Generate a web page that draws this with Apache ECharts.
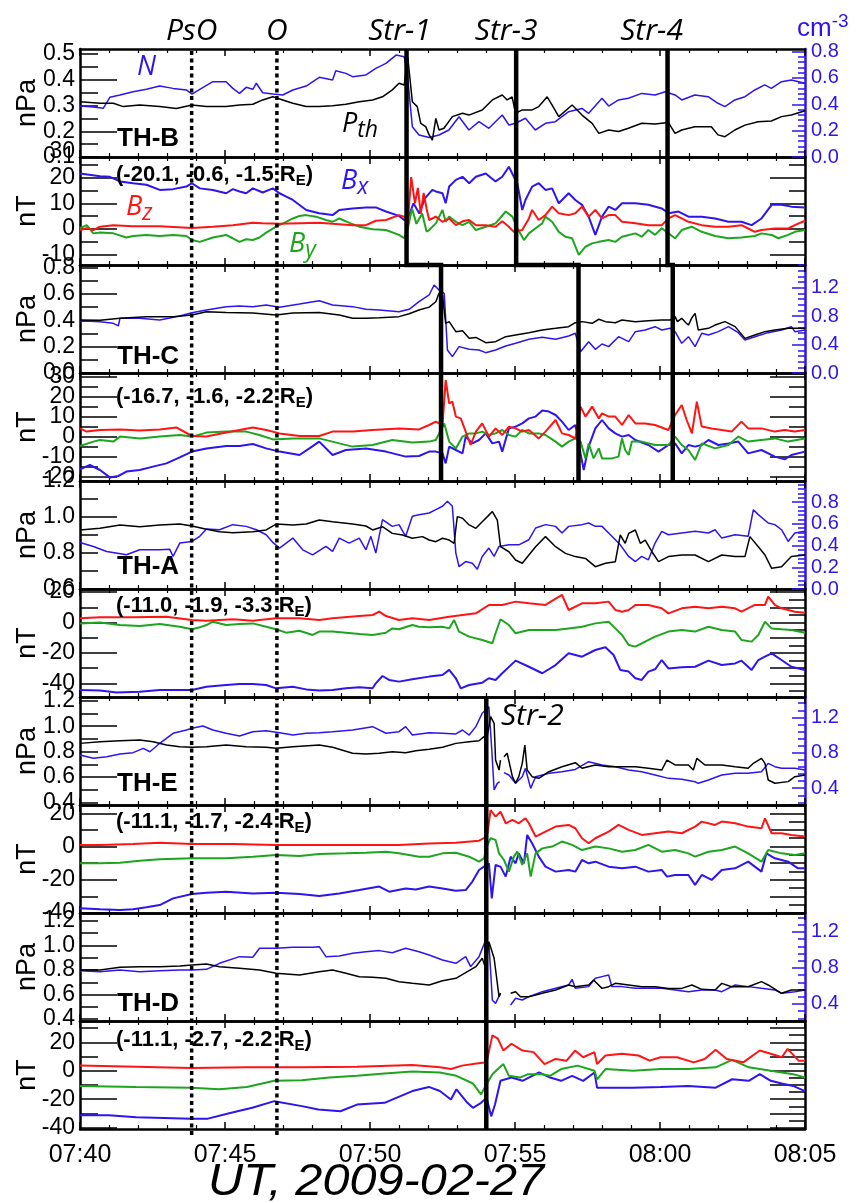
<!DOCTYPE html>
<html>
<head>
<meta charset="utf-8">
<title>THEMIS 2009-02-27</title>
<script src="https://cdn.jsdelivr.net/npm/echarts@6/dist/echarts.min.js"></script>
<style>
html,body{margin:0;padding:0;background:#fff;}
#chart{width:863px;height:1203px;}
</style>
</head>
<body>
<div id="chart"></div>
<script>
// ================= DATA (time in minutes after 07:40 UT) =================
const timeLabels = ['07:40','07:45','07:50','07:55','08:00','08:05'];
const xTitle = 'UT, 2009-02-27';
const probeNames = ['TH-B','TH-C','TH-A','TH-E','TH-D'];
const probePos = ['(-20.1, -0.6, -1.5 R','(-16.7, -1.6, -2.2 R','(-11.0, -1.9, -3.3 R','(-11.1, -1.7, -2.4 R','(-11.1, -2.7, -2.2 R'];
const dottedEvents = [{name:'PsO', t:3.85},{name:'O', t:6.79}];
const strNames = ['Str-1','Str-3','Str-4'];
const strTimesB = [11.26, 15.04, 20.26];
const strTimesC = [12.45, 17.19, 20.44];
const str2Time = 14.01;

// TH-B
const thbP = [[0,0.315],[0.69,0.309],[1.15,0.309],[1.49,0.296],[2.06,0.302],[2.75,0.296],[3.32,0.289],[3.86,0.302],[4.36,0.296],[5.04,0.296],[5.5,0.302],[5.96,0.305],[6.3,0.322],[6.65,0.334],[6.99,0.322],[7.34,0.309],[7.8,0.296],[8.25,0.296],[8.71,0.299],[9.17,0.305],[9.63,0.315],[10.09,0.322],[10.43,0.334],[10.77,0.361],[11.0,0.387],[11.18,0.38],[11.3,0.49],[11.46,0.315],[11.63,0.296],[11.75,0.231],[11.92,0.218],[12.04,0.186],[12.15,0.166],[12.27,0.25],[12.38,0.205],[12.55,0.212],[12.84,0.257],[13.19,0.27],[13.41,0.263],[13.87,0.283],[14.22,0.322],[14.56,0.341],[14.73,0.322],[14.9,0.334],[15.02,0.27],[15.25,0.283],[15.59,0.283],[15.82,0.296],[16.11,0.334],[16.28,0.302],[16.51,0.257],[16.97,0.302],[17.31,0.263],[17.66,0.231],[17.89,0.192],[18.23,0.205],[18.57,0.199],[18.91,0.212],[19.37,0.231],[19.83,0.228],[20.29,0.234],[20.52,0.192],[20.75,0.205],[21.2,0.218],[21.77,0.218],[22.0,0.186],[22.24,0.179],[22.58,0.205],[22.93,0.224],[23.38,0.237],[23.84,0.24],[24.19,0.257],[24.53,0.263],[25,0.28]];
const thbN = [[0,0.387],[0.46,0.38],[0.8,0.37],[1.03,0.453],[1.38,0.471],[1.83,0.496],[2.29,0.514],[2.75,0.539],[3.21,0.521],[3.67,0.509],[3.86,0.478],[4.13,0.514],[4.58,0.572],[5.04,0.572],[5.27,0.521],[5.5,0.483],[5.73,0.529],[5.96,0.514],[6.08,0.56],[6.3,0.488],[6.65,0.478],[6.99,0.471],[7.34,0.509],[7.8,0.539],[8.25,0.605],[8.71,0.585],[8.82,0.655],[9.17,0.635],[9.4,0.61],[9.86,0.623],[10.2,0.673],[10.55,0.711],[10.9,0.774],[11.18,0.762],[11.3,0.6],[11.46,0.23],[11.69,0.167],[12.04,0.148],[12.38,0.167],[12.72,0.205],[13.07,0.306],[13.41,0.205],[13.76,0.268],[14.1,0.218],[14.56,0.319],[14.79,0.243],[15.02,0.256],[15.36,0.294],[15.7,0.205],[16.05,0.256],[16.39,0.268],[16.85,0.344],[17.31,0.369],[17.54,0.332],[18.0,0.446],[18.23,0.387],[18.57,0.433],[18.91,0.446],[19.37,0.483],[19.83,0.471],[20.18,0.496],[20.52,0.471],[20.75,0.433],[21.2,0.471],[21.66,0.458],[22.0,0.408],[22.24,0.382],[22.58,0.433],[22.93,0.458],[23.27,0.509],[23.61,0.547],[23.84,0.521],[24.19,0.572],[24.53,0.585],[25,0.56]];
const thbBx = [[0,21.6],[0.69,20.5],[1.03,20.3],[1.38,18.5],[1.83,17.8],[2.29,17.2],[2.75,15.2],[3.21,15.5],[3.67,16.5],[3.86,17.8],[4.13,15.8],[4.58,15.2],[5.04,13.9],[5.27,15.5],[5.5,14.6],[5.73,13.9],[5.96,15.8],[6.3,14.2],[6.65,15.8],[6.88,13.9],[7.11,12.6],[7.34,11.3],[7.8,7.4],[8.25,6.1],[8.71,5.4],[8.94,7.4],[9.4,8.0],[9.86,8.4],[10.2,8.4],[10.55,6.8],[11.0,5.1],[11.18,3.5],[11.3,4],[11.5,10],[11.7,6],[11.9,12],[12.15,15.2],[12.27,14.6],[12.5,13.9],[12.61,10.0],[12.73,16.5],[12.96,19.1],[13.19,20.3],[13.42,17.8],[13.65,20.3],[13.99,21.6],[14.33,18.5],[14.56,20.3],[14.79,24.2],[14.96,20.3],[15.08,17.8],[15.25,7.4],[15.36,11.3],[15.59,16.5],[15.82,17.8],[16.05,15.2],[16.28,15.8],[16.51,10.0],[16.85,13.9],[17.08,11.3],[17.31,9.4],[17.54,4.8],[17.77,-2.3],[18.0,4.8],[18.23,8.7],[18.46,7.4],[18.69,10.0],[19.15,10.0],[19.6,9.4],[20.06,8.0],[20.29,6.1],[20.64,6.8],[20.98,4.8],[21.44,4.8],[21.9,4.1],[22.36,2.8],[22.81,2.8],[23.16,1.5],[23.5,4.1],[23.85,9.4],[24.19,9.4],[24.53,8.7],[25,8.4]];
const thbBy = [[0,0.3],[0.23,1.5],[0.46,-1.7],[0.69,-1.4],[1.15,-1.7],[1.6,-3.3],[1.83,-2.7],[2.29,-2.3],[2.75,-2.7],[3.21,-2.3],[3.67,-2.7],[3.86,-4.3],[4.13,-5.0],[4.58,-3.3],[5.04,-2.3],[5.27,-3.6],[5.5,-5.0],[5.73,-4.0],[5.96,-4.3],[6.19,-3.3],[6.42,-1.4],[6.76,0.9],[7.11,2.8],[7.34,4.1],[7.57,5.1],[7.8,5.4],[8.14,4.8],[8.48,3.5],[8.71,2.8],[8.94,4.1],[9.29,2.4],[9.63,0.9],[10.09,-0.1],[10.55,-0.4],[11.0,-2.3],[11.18,-3.6],[11.3,0],[11.45,8],[11.6,2],[11.8,6],[11.95,-1],[12.04,-0.4],[12.27,2.2],[12.5,7.4],[12.61,2.8],[12.73,4.8],[12.96,2.8],[13.19,1.5],[13.42,2.8],[13.65,-0.4],[13.99,0.9],[14.33,2.2],[14.68,6.8],[14.91,4.8],[15.08,0.3],[15.31,-4.3],[15.48,-1.7],[15.71,0.3],[15.94,2.2],[16.05,4.8],[16.28,2.8],[16.51,-1.1],[16.74,-3.0],[16.97,-3.6],[17.2,-10.1],[17.43,-6.9],[17.66,-5.6],[17.89,-5.0],[18.23,-4.3],[18.46,-5.0],[18.69,-3.0],[19.15,-1.7],[19.37,-3.0],[19.6,-0.4],[19.83,-2.3],[20.06,0.3],[20.29,-1.7],[20.52,-3.6],[20.75,-0.4],[21.09,0.9],[21.44,-1.1],[21.9,-2.7],[22.36,-3.6],[22.81,-3.3],[23.27,-2.7],[23.5,-1.7],[23.85,-2.3],[24.08,-3.6],[24.42,-2.3],[24.65,-1.1],[25,-0.4]];
const thbBz = [[0,-0.4],[0.23,0.3],[0.46,-0.4],[0.69,0.9],[1.15,1.5],[1.83,1.1],[2.75,1.1],[3.86,0.4],[4.58,0.9],[5.27,1.5],[5.96,2.4],[6.3,2.2],[6.88,2.0],[7.57,2.2],[8.25,2.4],[8.71,2.0],[9.4,1.5],[9.86,1.5],[10.2,3.2],[10.55,3.5],[11.0,5.4],[11.18,4.8],[11.3,2],[11.42,20.2],[11.55,10],[11.65,16],[11.75,6],[11.85,14],[11.95,8],[12.04,3.5],[12.27,4.8],[12.5,2.8],[12.73,4.1],[12.96,1.5],[13.19,3.0],[13.42,3.5],[13.65,1.5],[13.99,1.5],[14.33,0.9],[14.56,3.0],[14.79,0.9],[14.96,-1.1],[15.25,-0.4],[15.48,4.1],[15.59,7.4],[15.82,3.5],[16.05,5.4],[16.28,8.7],[16.51,6.1],[16.85,5.4],[17.08,6.1],[17.31,8.7],[17.54,4.8],[17.77,7.4],[18.0,4.1],[18.23,5.4],[18.46,5.4],[18.69,2.8],[19.15,2.2],[19.6,1.5],[20.06,1.5],[20.29,4.1],[20.52,5.4],[20.75,4.1],[20.98,2.8],[21.44,1.5],[21.9,0.9],[22.36,0.9],[22.81,1.5],[23.04,0.2],[23.27,-1.1],[23.5,-0.4],[23.97,0.2],[24.42,0.2],[24.65,1.5],[25,3.2]];

// TH-C
const thcP = [[0,0.402],[0.69,0.40],[1.38,0.415],[2.29,0.428],[3.21,0.428],[3.86,0.44],[4.36,0.465],[5.04,0.46],[5.96,0.455],[6.76,0.44],[7.34,0.455],[8.25,0.46],[8.94,0.44],[9.4,0.415],[9.86,0.415],[10.32,0.42],[11.0,0.428],[11.35,0.45],[11.69,0.478],[12.04,0.50],[12.27,0.541],[12.38,0.605],[12.5,0.59],[12.56,0.605],[12.61,0.377],[12.73,0.39],[12.96,0.314],[13.19,0.32],[13.42,0.263],[13.65,0.27],[13.99,0.23],[14.33,0.238],[14.68,0.276],[15.02,0.289],[15.48,0.306],[15.94,0.326],[16.4,0.339],[16.85,0.352],[17.08,0.382],[17.31,0.39],[17.66,0.377],[17.89,0.408],[18.12,0.39],[18.46,0.382],[18.69,0.402],[19.15,0.39],[19.6,0.397],[20.06,0.402],[20.35,0.402],[20.52,0.428],[20.6,0.39],[20.75,0.415],[20.9,0.38],[20.98,0.364],[21.1,0.42],[21.21,0.453],[21.32,0.326],[21.67,0.339],[21.9,0.364],[22.24,0.39],[22.59,0.352],[22.93,0.263],[23.27,0.289],[23.62,0.314],[23.96,0.326],[24.42,0.339],[25,0.339]];
const thcN = [[0,0.737],[0.69,0.722],[1.15,0.699],[1.32,0.662],[1.38,0.769],[2.06,0.769],[2.75,0.746],[3.44,0.802],[3.86,0.849],[4.36,0.887],[5.04,0.934],[5.5,0.943],[5.96,0.934],[6.42,0.957],[6.88,0.924],[7.57,0.971],[8.25,1.018],[8.71,0.957],[9.4,0.934],[9.86,0.896],[10.32,0.887],[11.0,0.863],[11.35,0.896],[11.69,1.004],[12.04,1.098],[12.21,1.239],[12.38,1.168],[12.56,1.12],[12.67,0.324],[12.84,0.23],[13.07,0.371],[13.42,0.333],[13.76,0.324],[13.99,0.286],[14.33,0.324],[14.68,0.38],[15.02,0.418],[15.48,0.474],[15.94,0.502],[16.4,0.474],[16.85,0.521],[17.08,0.559],[17.26,0.30],[17.54,0.441],[17.77,0.333],[18.0,0.408],[18.23,0.371],[18.57,0.511],[18.92,0.441],[19.15,0.582],[19.49,0.605],[19.83,0.652],[20.06,0.605],[20.35,0.629],[20.52,0.582],[20.75,0.418],[20.98,0.511],[21.21,0.371],[21.44,0.559],[21.67,0.535],[22.01,0.582],[22.36,0.652],[22.7,0.568],[22.93,0.465],[23.27,0.511],[23.73,0.568],[24.19,0.605],[24.53,0.652],[24.65,0.582],[25,0.605]];
const thcBx = [[0,-16.2],[0.34,-14],[0.69,-16.5],[1.03,-20.2],[1.32,-19.5],[1.6,-17.3],[2.06,-16.5],[2.52,-14.8],[2.98,-13.2],[3.44,-10.2],[3.86,-7.3],[4.36,-5.7],[5.04,-4.5],[5.5,-4.5],[5.96,-3.5],[6.42,-5.7],[6.88,-7.3],[7.57,-9],[7.91,-5.7],[8.25,-2.3],[8.71,-9],[9.17,-6.5],[9.86,-5.7],[10.55,-7.3],[11.23,-9.8],[11.69,-9.5],[12.04,-7.3],[12.27,-7.3],[12.5,-8.2],[12.61,-13.2],[12.73,-4.8],[12.96,-6.5],[13.19,-8.2],[13.3,0.2],[13.53,-3.2],[13.76,-1.5],[13.99,1.8],[14.22,-3.2],[14.45,-2.3],[14.56,-7.3],[14.79,4.3],[15.02,5.2],[15.25,6.8],[15.48,9.3],[15.71,10.2],[15.94,13.2],[16.17,12.7],[16.4,11],[16.62,7.7],[16.85,3.5],[17.08,6],[17.26,-8.2],[17.37,-16.5],[17.54,-4.8],[17.77,4.3],[18.0,8.5],[18.23,4.3],[18.46,1.8],[18.69,0.2],[18.92,1],[19.15,-1.5],[19.6,-4],[19.95,-7.3],[20.29,-4],[20.52,-3.2],[20.75,-8.2],[20.98,-4],[21.21,-4.8],[21.44,-4],[21.67,-1.5],[22.01,-4],[22.36,-3.2],[22.7,-2.3],[23.04,-8.2],[23.5,-6.5],[23.96,-9.8],[24.3,-11.2],[24.53,-9],[25,-7.3]];
const thcBy = [[0,-4.5],[0.46,-2.3],[0.69,-1.5],[1.15,-2.3],[1.38,0.2],[2.06,-0.7],[2.75,0.2],[3.44,1.0],[3.86,0.2],[4.36,2.2],[5.04,2.7],[5.73,2.7],[6.19,1.0],[6.65,-1.2],[7.34,-0.7],[8.25,-0.7],[8.94,-3.2],[9.4,-4.8],[10.09,-4.0],[10.77,-1.5],[11.46,-2.8],[12.04,-2.3],[12.27,-1.5],[12.56,6.8],[12.73,-2.3],[12.96,-5.7],[13.19,0.2],[13.42,1.8],[13.65,1.8],[13.87,2.7],[14.1,1.0],[14.33,1.8],[14.56,3.5],[14.79,1.0],[15.02,0.2],[15.25,3.5],[15.48,1.8],[15.82,1.8],[16.05,1.0],[16.4,-2.3],[16.62,-4.8],[16.85,-2.3],[17.08,-0.7],[17.26,-2.3],[17.43,-10.7],[17.54,-3.2],[17.71,-10.7],[17.89,-5.7],[18.0,-10.7],[18.34,-10.7],[18.57,-9.8],[18.69,-0.7],[18.8,-6.5],[18.92,-9],[19.03,-2.3],[19.37,-2.3],[19.83,-4],[20.29,-4],[20.52,0.2],[20.75,-4],[20.98,-6.5],[21.21,-11.5],[21.44,-3.2],[21.9,-5.7],[22.36,-4],[22.7,0.2],[23.04,-2.3],[23.5,-1.5],[23.96,-0.7],[24.42,-2.3],[25,-0.7]];
const thcBz = [[0,4.3],[0.23,2.7],[0.69,3.5],[1.38,3.8],[2.06,3.2],[2.75,3.8],[3.32,4.8],[3.86,0.5],[4.36,0.2],[5.04,2.2],[5.5,3.5],[5.96,4.8],[6.42,3.5],[6.88,1.8],[7.57,0.5],[8.25,0.5],[8.71,2.7],[9.4,2.7],[10.09,3.5],[11.0,4.2],[11.69,3.8],[12.04,6.0],[12.27,7.7],[12.5,6],[12.61,28.5],[12.73,16.8],[12.84,17.7],[12.96,10.2],[13.13,9.3],[13.3,2.7],[13.47,-4],[13.65,2.7],[13.87,6.8],[14.1,0.2],[14.33,4.3],[14.56,1],[14.79,5.2],[15.02,4.3],[15.25,2.7],[15.48,3.5],[15.82,-0.7],[16.05,2.7],[16.4,8.5],[16.62,1.8],[16.85,1],[17.08,-0.7],[17.26,15.2],[17.43,10.2],[17.66,15.2],[17.89,9.3],[18.0,11.8],[18.23,10.2],[18.46,10.2],[18.69,6],[18.92,11],[19.15,6.8],[19.49,6.8],[19.83,6],[20.29,3.5],[20.52,11],[20.75,16],[20.92,8.5],[21.1,1.8],[21.27,17.7],[21.44,5.2],[21.78,4.3],[22.13,3.5],[22.47,2.7],[22.81,7.7],[23.04,4.3],[23.5,4.3],[23.96,2.7],[24.3,3.5],[24.65,2.7],[25,3.5]];

// TH-A
const thaP = [[0,0.928],[0.69,0.937],[1.38,0.956],[2.06,0.946],[2.75,0.956],[3.44,0.961],[3.86,0.95],[4.36,0.932],[4.81,0.918],[5.27,0.913],[5.96,0.918],[6.42,0.928],[6.76,0.961],[7.34,0.956],[7.8,0.961],[8.25,0.983],[8.71,0.974],[9.4,0.961],[9.86,0.95],[10.09,0.928],[10.43,0.946],[10.77,0.909],[11.12,0.9],[11.46,0.882],[11.81,0.891],[12.04,0.872],[12.27,0.863],[12.5,0.882],[12.73,0.872],[12.9,0.854],[13.01,1.002],[13.19,0.993],[13.42,0.956],[13.65,0.937],[13.87,0.974],[14.05,1.002],[14.22,1.03],[14.39,0.983],[14.5,0.835],[14.79,0.807],[15.02,0.761],[15.25,0.743],[15.48,0.789],[15.71,0.835],[16.05,0.891],[16.4,0.835],[16.74,0.798],[17.08,0.78],[17.43,0.77],[17.77,0.724],[18.12,0.743],[18.46,0.752],[18.63,0.9],[18.8,0.854],[18.92,0.909],[19.15,0.928],[19.32,0.854],[19.49,0.872],[19.72,0.807],[19.95,0.752],[20.29,0.78],[20.75,0.789],[21.21,0.789],[21.67,0.752],[22.13,0.789],[22.59,0.78],[22.93,0.78],[23.1,0.891],[23.39,0.835],[23.62,0.789],[23.85,0.715],[24.19,0.724],[24.53,0.78],[25,0.789]];
const thaN = [[0,0.429],[0.46,0.392],[0.92,0.346],[1.6,0.315],[2.06,0.361],[2.75,0.361],[3.09,0.367],[3.21,0.30],[3.44,0.423],[3.86,0.438],[4.13,0.485],[4.36,0.553],[4.81,0.546],[5.27,0.593],[5.73,0.577],[6.08,0.546],[6.42,0.5],[6.65,0.429],[6.88,0.377],[7.34,0.469],[7.68,0.361],[8.02,0.315],[8.48,0.392],[8.71,0.346],[8.94,0.469],[9.28,0.423],[9.63,0.469],[9.86,0.361],[10.03,0.485],[10.2,0.331],[10.43,0.639],[10.77,0.577],[11.0,0.593],[11.23,0.485],[11.46,0.67],[11.69,0.685],[12.04,0.70],[12.27,0.731],[12.5,0.762],[12.67,0.809],[12.84,0.762],[12.96,0.331],[13.07,0.207],[13.3,0.253],[13.53,0.238],[13.7,0.182],[13.87,0.30],[14.1,0.377],[14.28,0.30],[14.45,0.392],[14.79,0.407],[15.13,0.407],[15.48,0.454],[15.71,0.562],[16.05,0.593],[16.4,0.577],[16.62,0.516],[16.85,0.577],[17.31,0.593],[17.54,0.608],[17.77,0.577],[18.0,0.577],[18.23,0.516],[18.46,0.454],[18.63,0.407],[18.92,0.30],[19.15,0.253],[19.37,0.30],[19.6,0.269],[19.83,0.423],[20.06,0.531],[20.29,0.5],[20.75,0.516],[21.21,0.531],[21.67,0.516],[21.9,0.546],[22.13,0.469],[22.59,0.5],[23.04,0.485],[23.22,0.731],[23.39,0.685],[23.73,0.608],[23.96,0.593],[24.19,0.546],[24.42,0.438],[24.65,0.516],[25,0.531]];
const thaBx = [[0,-44.4],[0.69,-44.8],[1.26,-46.1],[2.06,-45.5],[2.75,-44.4],[3.44,-44.4],[3.86,-44.4],[4.36,-42.2],[5.04,-41.1],[5.5,-40.4],[5.96,-40.4],[6.42,-41.1],[6.76,-43.3],[7.34,-42.2],[7.8,-44.0],[8.25,-44.8],[8.71,-44.4],[9.17,-43.3],[9.63,-42.6],[10.09,-43.3],[10.2,-40.0],[10.43,-35.2],[10.66,-37.8],[11.0,-38.9],[11.46,-37.4],[12.04,-35.6],[12.5,-34.5],[12.73,-31.2],[12.96,-36.7],[13.13,-43.3],[13.42,-41.1],[13.87,-39.6],[14.1,-36.7],[14.33,-37.8],[14.56,-33.4],[15.02,-25.1],[15.48,-29.1],[15.94,-33.4],[16.4,-28.0],[16.85,-20.3],[17.31,-22.5],[17.77,-18.1],[18.12,-16.3],[18.4,-21.4],[18.63,-31.2],[18.92,-32.3],[19.15,-36.7],[19.37,-37.8],[19.6,-32.3],[19.83,-30.8],[20.06,-24.7],[20.29,-30.2],[20.75,-29.5],[21.21,-29.1],[21.67,-25.1],[22.13,-28.0],[22.59,-26.9],[22.81,-25.1],[23.16,-31.2],[23.39,-24.7],[23.62,-22.5],[23.85,-20.3],[24.19,-24.7],[24.53,-29.1],[25,-31.2]];
const thaBy = [[0,-0.6],[0.69,-0.1],[1.38,-1.7],[2.06,-2.3],[2.75,-1.0],[3.44,-2.8],[3.86,-4.5],[4.13,-3.2],[4.36,-1.7],[4.58,0.5],[5.04,-1.7],[5.5,-1.0],[5.96,-0.6],[6.42,-2.8],[6.76,-4.5],[7.11,-6.7],[7.57,-5.4],[8.02,-8.2],[8.25,-6.0],[8.71,-6.0],[9.17,-6.7],[9.63,-7.6],[10.09,-8.2],[10.55,-6.7],[10.77,-3.9],[11.0,-4.5],[11.46,-1.7],[11.69,-2.8],[12.04,-3.2],[12.5,-2.8],[12.73,-3.9],[12.9,1.6],[13.07,-6.0],[13.42,-9.3],[13.87,-11.5],[14.22,-13.7],[14.33,-7.1],[14.5,2.1],[14.79,-1.7],[15.02,-7.1],[15.48,-5.0],[15.94,-5.0],[16.4,-5.0],[16.85,-3.9],[17.31,-2.8],[17.77,-0.6],[18.23,0.5],[18.46,-3.9],[18.69,-8.2],[18.92,-14.8],[19.15,-15.9],[19.37,-13.7],[19.83,-9.3],[20.29,-6.0],[20.75,-5.0],[21.21,-6.0],[21.67,-2.8],[22.13,-5.0],[22.59,-6.0],[22.81,-11.5],[23.16,-12.6],[23.39,-8.2],[23.62,0.5],[23.85,-3.9],[24.19,-4.5],[24.53,-5.0],[25,-6.7]];
const thaBz = [[0,2.7],[0.69,3.4],[1.83,3.4],[2.98,3.8],[3.86,1.6],[4.36,1.2],[5.27,2.1],[5.96,1.2],[6.76,2.7],[7.57,2.7],[8.25,1.6],[8.71,2.7],[9.63,4.2],[10.09,4.9],[10.32,7.1],[10.55,4.2],[11.0,1.6],[11.46,2.7],[12.04,1.6],[12.73,3.8],[13.19,4.9],[13.65,6.0],[14.1,11.5],[14.56,11.5],[15.02,13.7],[15.48,12.6],[16.05,11.5],[16.62,18.1],[16.85,8.2],[17.31,12.6],[17.77,12.6],[18.23,13.7],[18.46,8.2],[18.69,7.1],[18.92,8.2],[19.15,11.5],[19.6,11.5],[20.06,9.3],[20.29,6.0],[20.75,9.3],[21.21,10.4],[21.67,9.3],[22.13,10.4],[22.59,9.3],[22.81,7.1],[23.27,11.5],[23.62,11.5],[23.73,17.0],[23.96,11.5],[24.19,9.3],[24.42,8.2],[24.65,7.1],[25,6.4]];

// TH-E
const theP = [[0,0.865],[0.69,0.878],[1.38,0.886],[2.06,0.892],[2.52,0.878],[2.98,0.852],[3.44,0.839],[3.86,0.834],[4.36,0.839],[5.04,0.852],[5.73,0.839],[6.42,0.834],[6.76,0.826],[7.34,0.839],[8.25,0.852],[8.71,0.834],[9.4,0.787],[9.86,0.781],[10.32,0.787],[10.77,0.8],[11.23,0.792],[11.58,0.807],[12.04,0.818],[12.5,0.834],[12.96,0.865],[13.42,0.878],[13.76,0.886],[13.93,0.918],[14.01,0.878],[14.16,1.075],[14.28,1.023],[14.33,0.734],[14.45,0.655],[14.5,0.734],[14.56,null],[14.62,0.76],[14.73,0.787],[14.91,0.603],[15.02,0.551],[15.13,0.603],[15.25,0.708],[15.34,0.852],[15.42,0.655],[15.59,0.603],[15.82,0.59],[16.17,0.642],[16.62,0.681],[17.08,0.713],[17.31,0.669],[17.77,0.695],[18.23,0.681],[18.69,0.681],[19.15,0.681],[19.6,0.669],[20.06,0.655],[20.24,0.734],[20.52,0.695],[20.98,0.695],[21.15,0.655],[21.27,0.747],[21.55,0.695],[22.13,0.695],[22.59,0.681],[23.04,0.669],[23.22,0.708],[23.5,0.747],[23.62,0.708],[23.73,0.577],[23.96,0.551],[24.42,0.564],[24.65,0.603],[25,0.616]];
const theN = [[0,0.775],[0.46,0.737],[0.92,0.756],[1.38,0.786],[1.83,0.801],[2.18,0.85],[2.41,0.812],[2.75,0.907],[3.21,1.02],[3.67,1.057],[3.86,1.076],[4.24,1.102],[4.58,1.057],[5.04,1.02],[5.5,0.989],[5.96,1.038],[6.42,1.049],[6.88,1.027],[7.34,1.0],[7.8,1.02],[8.25,1.027],[8.71,1.038],[9.4,1.057],[10.09,1.095],[10.55,1.02],[11.0,1.038],[11.23,1.095],[11.46,1.0],[12.04,1.027],[12.5,1.02],[12.96,1.013],[13.19,1.057],[13.42,1.0],[13.65,1.095],[13.87,1.246],[13.99,1.283],[14.1,1.32],[14.2,0.831],[14.28,0.379],[14.39,0.455],[14.47,0.473],[14.56,null],[14.62,0.575],[14.79,0.549],[15.02,0.455],[15.25,0.53],[15.36,0.624],[15.54,0.398],[15.71,0.53],[16.17,0.568],[16.62,0.586],[17.08,0.612],[17.54,0.699],[18.0,0.662],[18.46,0.643],[18.92,0.605],[19.37,0.586],[19.83,0.549],[20.29,0.511],[20.75,0.5],[21.21,0.473],[21.32,0.455],[21.67,0.492],[22.13,0.549],[22.59,0.568],[23.04,0.568],[23.5,0.586],[23.73,0.68],[23.96,0.643],[24.19,0.624],[24.65,0.624],[25,0.605]];
const theBx = [[0,-37.2],[0.69,-37.8],[1.38,-38.2],[1.83,-37.8],[2.29,-36.6],[2.75,-35.2],[3.21,-31.2],[3.86,-28.6],[4.36,-27.8],[5.04,-27.2],[5.96,-28.2],[6.76,-27.8],[7.57,-28.6],[8.25,-29.8],[8.94,-28.2],[9.63,-26.2],[10.32,-24.1],[10.66,-27.2],[11.23,-25.2],[11.58,-25.8],[12.04,-24.1],[12.5,-25.2],[12.96,-26.6],[13.3,-26.2],[13.53,-21.1],[13.76,-14.1],[13.93,-12.1],[14.1,-10.1],[14.2,-31.2],[14.33,-11.1],[14.5,-12.1],[14.68,-18.1],[14.85,-6.1],[15.02,-10.1],[15.13,-4.1],[15.31,-10.1],[15.42,7],[15.59,2],[15.82,-6.1],[16.05,-12.1],[16.4,-15.1],[16.85,-14.1],[17.08,-15.1],[17.31,-8.1],[17.54,-10.1],[17.77,-9.1],[18.23,-12.1],[18.69,-13.1],[19.15,-12.1],[19.6,-15.1],[20.06,-14.1],[20.24,-18.1],[20.52,-17.1],[20.98,-17.1],[21.21,-23.1],[21.44,-17.1],[21.78,-20.1],[22.13,-14.1],[22.59,-13.1],[23.04,-9.1],[23.5,-15.1],[23.67,-4.1],[23.96,-7.1],[24.42,-9.1],[24.76,-13.1],[25,-13.1]];
const theBy = [[0,-10.1],[0.69,-10.1],[1.38,-9.7],[2.06,-8.5],[2.75,-7.7],[3.86,-7.1],[5.04,-7.1],[5.96,-6.1],[6.76,-5.1],[7.57,-5.7],[8.25,-4.5],[9.17,-4.1],[9.86,-3.7],[10.55,-3.1],[11.0,-4.1],[11.69,-6.1],[12.04,-6.1],[12.5,-4.1],[12.96,-3.7],[13.42,-6.1],[13.76,-9.1],[13.93,-7.1],[14.05,1],[14.16,5],[14.33,4],[14.45,-4.1],[14.62,-8.1],[14.79,-15.1],[14.96,-6.1],[15.08,-3.1],[15.25,-11.1],[15.42,-4.1],[15.54,-18.1],[15.71,-4.1],[15.94,-1.1],[16.28,0],[16.62,3],[16.97,1],[17.31,-2.1],[17.77,0],[18.23,-1.1],[18.69,-3.1],[19.15,-2.1],[19.6,1],[20.06,-3.1],[20.52,-2.1],[20.98,-4.1],[21.21,-6.1],[21.67,-3.1],[22.13,-2.1],[22.59,0],[23.04,-4.1],[23.5,-9.1],[23.73,-2.1],[24.19,-4.1],[24.65,-5.1],[25,-4.1]];
const theBz = [[0,0.9],[0.69,0.9],[1.83,1.5],[2.75,2.3],[3.86,1.5],[5.27,1.5],[6.76,0.9],[8.25,0.9],[9.86,0.9],[11.0,0.9],[12.04,1.9],[12.96,2.3],[13.76,3.5],[13.93,5.0],[14.05,8],[14.16,22],[14.33,18],[14.5,21],[14.68,14],[14.91,16],[15.13,14],[15.36,17],[15.48,14],[15.71,6],[16.05,9],[16.4,12],[16.85,13],[17.08,11],[17.31,5],[17.54,2],[17.77,5],[18.23,9],[18.57,13],[18.92,10],[19.37,7],[19.83,8],[20.29,9],[20.75,8],[21.21,12],[21.44,15],[21.9,13],[22.13,15],[22.59,14],[23.04,12],[23.5,11],[23.62,17],[23.85,8],[24.19,8],[24.53,7],[25,6]];

// TH-D
const thdP = [[0,0.80],[0.69,0.80],[1.38,0.822],[2.06,0.827],[2.75,0.827],[3.44,0.833],[3.86,0.841],[4.36,0.849],[4.81,0.827],[5.5,0.814],[6.19,0.80],[6.76,0.773],[7.57,0.759],[8.25,0.786],[8.71,0.80],[9.17,0.773],[9.63,0.745],[10.09,0.74],[10.55,0.732],[11.0,0.705],[11.46,0.691],[12.04,0.678],[12.5,0.713],[12.96,0.732],[13.3,0.778],[13.65,0.827],[13.87,0.896],[13.99,0.814],[14.1,1.03],[14.28,0.896],[14.45,0.582],[14.5,0.61],[14.6,null],[14.85,0.61],[15.02,0.623],[15.19,0.582],[15.48,0.582],[15.94,0.61],[16.4,0.637],[16.85,0.678],[17.08,0.664],[17.54,0.678],[17.71,0.718],[18.0,0.65],[18.23,0.664],[18.46,0.691],[18.92,0.678],[19.37,0.664],[19.83,0.664],[20.29,0.65],[20.75,0.65],[21.1,0.678],[21.44,0.642],[21.9,0.637],[22.13,0.691],[22.47,0.664],[23.04,0.664],[23.5,0.705],[23.73,0.678],[24.19,0.61],[24.53,0.637],[25,0.637]];
const thdN = [[0,0.769],[0.69,0.758],[1.38,0.777],[2.06,0.758],[2.75,0.769],[3.44,0.777],[3.86,0.777],[4.36,0.784],[4.81,0.851],[5.5,0.925],[5.96,0.918],[6.19,1.018],[6.76,1.018],[7.34,1.029],[8.02,1.029],[8.25,1.036],[8.48,0.925],[8.94,0.932],[9.4,0.962],[9.86,0.98],[10.32,0.992],[10.77,0.969],[11.23,1.018],[11.69,0.98],[12.04,0.943],[12.5,0.888],[12.96,0.851],[13.3,0.925],[13.47,0.814],[13.76,0.925],[13.99,1.11],[14.1,1.073],[14.22,0.44],[14.33,0.406],[14.5,0.52],[14.6,null],[14.85,0.388],[15.02,0.462],[15.25,0.443],[15.48,0.481],[15.94,0.536],[16.4,0.573],[16.85,0.61],[16.97,0.673],[17.08,0.573],[17.54,0.592],[17.77,0.684],[18.0,0.703],[18.23,0.721],[18.34,0.592],[18.69,0.592],[19.15,0.573],[19.6,0.573],[20.06,0.573],[20.52,0.555],[20.98,0.536],[21.44,0.555],[21.9,0.555],[22.13,0.536],[22.59,0.61],[23.04,0.592],[23.5,0.573],[23.96,0.555],[24.19,0.518],[24.65,0.536],[25,0.555]];
const thdBx = [[0,-31.4],[0.99,-31.4],[1.94,-32.8],[3.84,-33.7],[4.41,-33.7],[5.18,-29.7],[5.94,-26.1],[6.7,-21.4],[7.65,-24.9],[8.22,-27.3],[8.98,-28.5],[9.55,-23.8],[10.5,-22.6],[11.46,-14.3],[12.03,-11.4],[12.41,-14.3],[12.79,-20.2],[12.98,-13.1],[13.36,-22.6],[13.55,-26.1],[13.83,-22.6],[14.02,-19.0],[14.18,-32.1],[14.31,-23.8],[14.5,-7.1],[14.88,-4.8],[15.26,-7.1],[15.83,-1.2],[16.21,-4.8],[16.59,-7.1],[16.97,-3.6],[17.35,-7.1],[17.74,-1.2],[17.83,-11.9],[18.12,-11.9],[19.07,-11.9],[20.02,-11.4],[20.97,-10.7],[21.92,-11.9],[22.49,-6.0],[23.06,-7.1],[23.44,-2.4],[23.82,-7.1],[24.2,-9.0],[24.59,-10.7],[25,-14.3]];
const thdBy = [[0,-10.7],[1.94,-11.4],[3.84,-11.9],[4.8,-13.1],[5.75,-11.4],[6.7,-7.1],[7.65,-6.7],[8.6,-4.8],[9.55,-3.6],[10.5,-1.9],[11.46,-0.5],[12.41,-1.2],[12.98,-3.6],[13.55,-9.0],[13.83,-16.6],[14.02,-9.5],[14.22,-2.4],[14.41,1.2],[14.6,4.7],[14.79,-3.6],[15.17,-4.8],[15.45,-2.4],[15.93,-2.4],[16.21,-3.6],[16.59,1.2],[17.16,3.6],[17.74,0],[17.83,-6.0],[18.12,1.2],[19.07,0],[20.02,1.2],[20.97,1.2],[21.92,2.4],[22.49,7.6],[23.06,2.4],[23.82,0],[24.59,-2.4],[25,-4.8]];
const thdBz = [[0,3.6],[1.94,2.8],[3.84,1.9],[5.75,2.4],[7.65,2.4],[9.55,2.8],[11.46,4.0],[12.41,2.4],[12.79,1.2],[13.17,3.6],[13.74,5.2],[14.02,5.9],[14.22,24.9],[14.41,22.6],[14.6,14.2],[14.88,19.0],[15.26,14.2],[15.64,13.1],[16.02,4.7],[16.4,8.3],[16.78,7.1],[17.07,14.2],[17.35,9.5],[17.74,13.1],[17.83,4.7],[18.12,10.7],[18.69,11.9],[19.26,10.7],[19.64,7.1],[20.02,9.5],[20.59,9.5],[21.16,5.9],[21.54,8.3],[21.92,14.7],[22.3,8.3],[22.87,5.9],[23.44,14.2],[23.82,11.9],[24.2,9.5],[24.4,15.4],[24.78,7.1],[25,7.1]];

// ================= LAYOUT / STYLE =================
const BLUE = '#2e14ee', RED = '#ff1414', GREEN = '#1ea51e', BLACK = '#000';
const FONT = "'Liberation Sans', Arial, Helvetica, sans-serif";
const IFONT = "'Open Sans', 'Liberation Sans', sans-serif";
const GL = 80, GR = 58, GTOP = 49, PH = 108;
const strLabelShift = [-7, -10, -16];

const panels = [
  {type:'P', P:thbP, N:thbN, left:{min:0.1,max:0.52,lab:0.1,dec:1,sh:0.05,lg:0.2,lgOff:0}, right:{min:0,max:0.82,lab:0.2,dec:1,mi:0.04}},
  {type:'B', Bx:thbBx, By:thbBy, Bz:thbBz, left:{min:-14,max:28,labHi:30,lab:10,dec:0,sh:5,lg:10,lgOff:0}},
  {type:'P', P:thcP, N:thcN, left:{min:0,max:0.82,lab:0.2,dec:1,sh:0.1,lg:0.4,lgOff:0.2}, right:{min:0,max:1.52,lab:0.4,dec:1,mi:0.08}},
  {type:'B', Bx:thcBx, By:thcBy, Bz:thcBz, left:{min:-22,max:32,lab:10,dec:0,sh:5,lg:10,lgOff:0}},
  {type:'P', P:thaP, N:thaN, left:{min:0.6,max:1.2,lab:0.2,dec:1,sh:0.1,lg:0.4,lgOff:0.2}, right:{min:0,max:0.995,lab:0.2,dec:1,mi:0.04}},
  {type:'B', Bx:thaBx, By:thaBy, Bz:thaBz, left:{min:-49,max:22,lab:20,dec:0,sh:10,lg:20,lgOff:0}},
  {type:'P', P:theP, N:theN, left:{min:0.38,max:1.23,lab:0.2,dec:1,sh:0.1,lg:0.4,lgOff:0.2}, right:{min:0.21,max:1.43,lab:0.4,dec:1,mi:0.08}},
  {type:'B', Bx:theBx, By:theBy, Bz:theBz, left:{min:-40,max:25,lab:20,dec:0,sh:10,lg:20,lgOff:0}},
  {type:'P', P:thdP, N:thdN, left:{min:0.384,max:1.265,lab:0.2,dec:1,sh:0.1,lg:0.4,lgOff:0.2}, right:{min:0.21,max:1.41,lab:0.4,dec:1,mi:0.08}},
  {type:'B', Bx:thdBx, By:thdBy, Bz:thdBz, left:{min:-41,max:35,lab:20,dec:0,sh:10,lg:20,lgOff:0}}
];

// values k*step+off that fall inside [min, max]
function multiples(min, max, step, off){
  off = off || 0;
  const out = [];
  const k0 = Math.ceil((min - off) / step - 1e-6), k1 = Math.floor((max - off) / step + 1e-6);
  for (let k = k0; k <= k1; k++) out.push(+(off + k * step).toFixed(6));
  return out;
}
function prep(arr){ return arr.map(d => [d[0], d[1] == null ? '-' : d[1]]); }

function xAxisDef(gi, pos, showLabels){
  return {type:'value', gridIndex:gi, position:pos, min:0, max:25, interval:5,
    axisLine:{show:true, onZero:false, lineStyle:{color:BLACK, width:2.5}},
    axisTick:{show:true, inside:true, length:7, lineStyle:{color:BLACK, width:1.5}},
    minorTick:{show:true, splitNumber:5, length:4, lineStyle:{color:BLACK, width:1.2}},
    splitLine:{show:false}, minorSplitLine:{show:false},
    axisLabel:{show:showLabels, margin:14, fontSize:25, color:BLACK, fontFamily:FONT, hideOverlap:false,
      formatter: v => timeLabels[Math.round(v / 5)]}};
}
function tickAxis(gi, pos, min, max, vals, len, color, line){
  return {type:'value', gridIndex:gi, position:pos, min:min, max:max,
    axisLine:{show:!!line, onZero:false, lineStyle:{color:color, width:2.5}},
    axisTick:{show:true, inside:true, length:len, customValues:vals, lineStyle:{color:color, width:1.5}},
    axisLabel:{show:false}, splitLine:{show:false}};
}
function leftMainAxis(gi, c, name){
  return {type:'value', gridIndex:gi, position:'left', min:c.min, max:c.max,
    axisLine:{show:true, onZero:false, lineStyle:{color:BLACK, width:2.5}},
    axisTick:{show:false}, splitLine:{show:false}, axisLabel:{show:false},
    name:name, nameLocation:'middle', nameGap:39,
    nameTextStyle:{fontSize:27, color:BLACK, fontFamily:FONT}};
}
function rightNAxis(gi, c){
  return {type:'value', gridIndex:gi, position:'right', min:c.min, max:c.max,
    axisLine:{show:true, onZero:false, lineStyle:{color:BLUE, width:2.5}},
    axisTick:{show:true, inside:true, length:13, customValues:multiples(c.min, c.max, c.lab), lineStyle:{color:BLUE, width:1.5}},
    splitLine:{show:false},
    axisLabel:{show:true, margin:6, fontSize:20, lineHeight:15, color:BLUE, fontFamily:FONT, hideOverlap:false,
      customValues:multiples(c.min, c.max, c.lab), showMinLabel:true, showMaxLabel:true,
      formatter: v => Number(v).toFixed(c.dec)}};
}
function lineSeries(xi, yi, data, color, width){
  return {type:'line', xAxisIndex:xi, yAxisIndex:yi, data:prep(data), showSymbol:false, symbol:'none',
    lineStyle:{color:color, width:width}, itemStyle:{color:color}, connectNulls:false,
    silent:true, animation:false, z:3};
}

const grids = [], xAxes = [], yAxes = [], series = [];
panels.forEach((p, i) => {
  grids.push({left:GL, right:GR, top:GTOP + PH * i, height:PH});
  const xb = xAxes.length;
  xAxes.push(xAxisDef(i, 'bottom', i === panels.length - 1));
  xAxes.push(xAxisDef(i, 'top', false));
  const yl = yAxes.length;
  const c = p.left;
  yAxes.push(leftMainAxis(i, c, p.type === 'P' ? 'nPa' : 'nT'));
  yAxes.push(tickAxis(i, 'left', c.min, c.max, multiples(c.min, c.max, c.sh), 18, BLACK, false));
  yAxes.push(tickAxis(i, 'left', c.min, c.max, multiples(c.min, c.max, c.lg, c.lgOff), 37, BLACK, false));
  if (p.type === 'P') {
    const r = p.right;
    const yr = yAxes.length;
    yAxes.push(rightNAxis(i, r));
    yAxes.push(tickAxis(i, 'right', r.min, r.max, multiples(r.min, r.max, r.mi), 7, BLUE, false));
    series.push(lineSeries(xb, yr, p.N, BLUE, 1.5));
    series.push(lineSeries(xb, yl, p.P, BLACK, 1.5));
  } else {
    yAxes.push(tickAxis(i, 'right', c.min, c.max, multiples(c.min, c.max, 10), 35, BLACK, true));
    yAxes.push(tickAxis(i, 'right', c.min, c.max, multiples(c.min, c.max, 10, 5), 16, BLACK, false));
    series.push(lineSeries(xb, yl, p.Bx, BLUE, 2));
    series.push(lineSeries(xb, yl, p.By, GREEN, 2));
    series.push(lineSeries(xb, yl, p.Bz, RED, 2));
  }
});

// left tick labels: two label-only value axes per panel (alternate labels), each in a grid
// sized so that its scale coincides exactly with the panel's left scale
panels.forEach((p, i) => {
  const c = p.left;
  const L = multiples(c.min, c.labHi != null ? c.labHi : c.max, c.lab);
  const span = c.max - c.min;
  [0, 1].forEach(par => {
    const S = L.filter((v, k) => k % 2 === par);
    if (S.length < 2) return;
    const smin = S[0], smax = S[S.length - 1];
    const gi = grids.length;
    grids.push({left:GL, right:GR, top:GTOP + PH * i + (c.max - smax) / span * PH, height:(smax - smin) / span * PH});
    xAxes.push({type:'value', gridIndex:gi, min:0, max:25, show:false});
    yAxes.push({type:'value', gridIndex:gi, position:'left', min:smin, max:smax, interval:2 * c.lab,
      axisLine:{show:false}, axisTick:{show:false}, splitLine:{show:false},
      axisLabel:{show:true, margin:5, fontSize:23, color:BLACK, fontFamily:FONT, hideOverlap:false,
        showMinLabel:true, showMaxLabel:true, formatter: v => Number(v).toFixed(c.dec)}});
  });
});

// overlay coordinate system for event markers (y in panel units: 0 = bottom of last panel, 10 = top)
const ovG = grids.length;
grids.push({left:GL, right:GR, top:GTOP, height:PH * 10 + 6});
const ovX = xAxes.length;
xAxes.push({type:'value', gridIndex:ovG, min:0, max:25, show:false});
const ovY = yAxes.length;
yAxes.push({type:'value', gridIndex:ovG, min:-6 / PH, max:10, show:false});
function evSeries(data, width, dash){
  return {type:'line', xAxisIndex:ovX, yAxisIndex:ovY, data:data, showSymbol:false, symbol:'none',
    lineStyle:{color:BLACK, width:width, type:dash || 'solid', cap:'butt', join:'miter'},
    silent:true, animation:false, z:6};
}
dottedEvents.forEach(e => series.push(evSeries([[e.t, -6 / PH], [e.t, 10]], 3.5, [4, 3.5])));
strTimesB.forEach((tb, k) => {
  const tc = strTimesC[k];
  series.push(evSeries([[tb, 10], [tb, 8], [tc, 8], [tc, 6]], 4.5));
});
series.push(evSeries([[str2Time, 4], [str2Time, 0]], 4.5));

// ================= TEXT =================
function txt(x, y, text, rich, align, sx){
  return {type:'text', x:x, y:y, z:100, silent:true, scaleX:sx || 1,
    style:{text:text, rich:rich, align:align || 'left', verticalAlign:'middle'}};
}
const evStyle = {m:{fontSize:30, fontStyle:'italic', fontFamily:IFONT, fill:BLACK}};
const sub = (color, big, small, italic, bold, pad) => ({
  m:{fontSize:big, fontStyle:italic ? 'italic' : 'normal', fontWeight:bold ? 'bold' : 'normal', fontFamily:italic ? IFONT : FONT, fill:color},
  s:{fontSize:small, fontStyle:italic ? 'italic' : 'normal', fontWeight:bold ? 'bold' : 'normal', fontFamily:italic ? IFONT : FONT, fill:color, padding:[pad, 0, 0, 0]}
});
const probeStyle = {m:{fontSize:26, fontWeight:'bold', fontFamily:FONT, fill:BLACK}};
const posStyle = sub(BLACK, 22, 15, false, true, 11);

const graphics = [];
const tScale = (863 - GR - GL) / 25;
dottedEvents.forEach(e => graphics.push(txt(GL + e.t * tScale, 31, '{m|' + e.name + '}', evStyle, 'center')));
strNames.forEach((n, k) => graphics.push(txt(GL + strTimesB[k] * tScale + strLabelShift[k], 31, '{m|' + n + '}', evStyle, 'center')));
graphics.push(txt(797, 29, '{m|cm}{p|-3}', {m:{fontSize:26, fontFamily:FONT, fill:BLUE}, p:{fontSize:19, fontFamily:FONT, fill:BLUE, padding:[0,0,15,0]}}, 'left'));
graphics.push(txt(137, 67, '{m|N}', {m:{fontSize:27, fontStyle:'italic', fontFamily:IFONT, fill:BLUE}}, 'left'));
graphics.push(txt(342, 124, '{m|P}{s|th}', sub(BLACK, 27, 23, true, false, 13), 'left'));
graphics.push(txt(341, 181, '{m|B}{s|x}', sub(BLUE, 27, 23, true, false, 13), 'left'));
graphics.push(txt(126, 207, '{m|B}{s|z}', sub(RED, 27, 23, true, false, 13), 'left'));
graphics.push(txt(289, 244, '{m|B}{s|y}', sub(GREEN, 27, 23, true, false, 13), 'left'));
const probeY = [139, 357, 567, 784, 1004];
const posY = [175, 397, 606, 822, 1040];
probeNames.forEach((n, k) => {
  graphics.push(txt(117, probeY[k], '{m|' + n + '}', probeStyle, 'left'));
  graphics.push(txt(116, posY[k], '{m|' + probePos[k] + '}{s|E}{m|)}', posStyle, 'left'));
});
graphics.push(txt(501, 716, '{m|Str-2}', evStyle, 'left'));
graphics.push(txt(376, 1182, '{m|' + xTitle + '}', {m:{fontSize:45, fontStyle:'italic', fontFamily:FONT, fill:BLACK}}, 'center', 1.08));

const chart = echarts.init(document.getElementById('chart'), null, {renderer:'canvas'});
chart.setOption({
  animation:false,
  backgroundColor:'#fff',
  grid:grids, xAxis:xAxes, yAxis:yAxes, series:series, graphic:graphics
});
</script>
</body>
</html>
